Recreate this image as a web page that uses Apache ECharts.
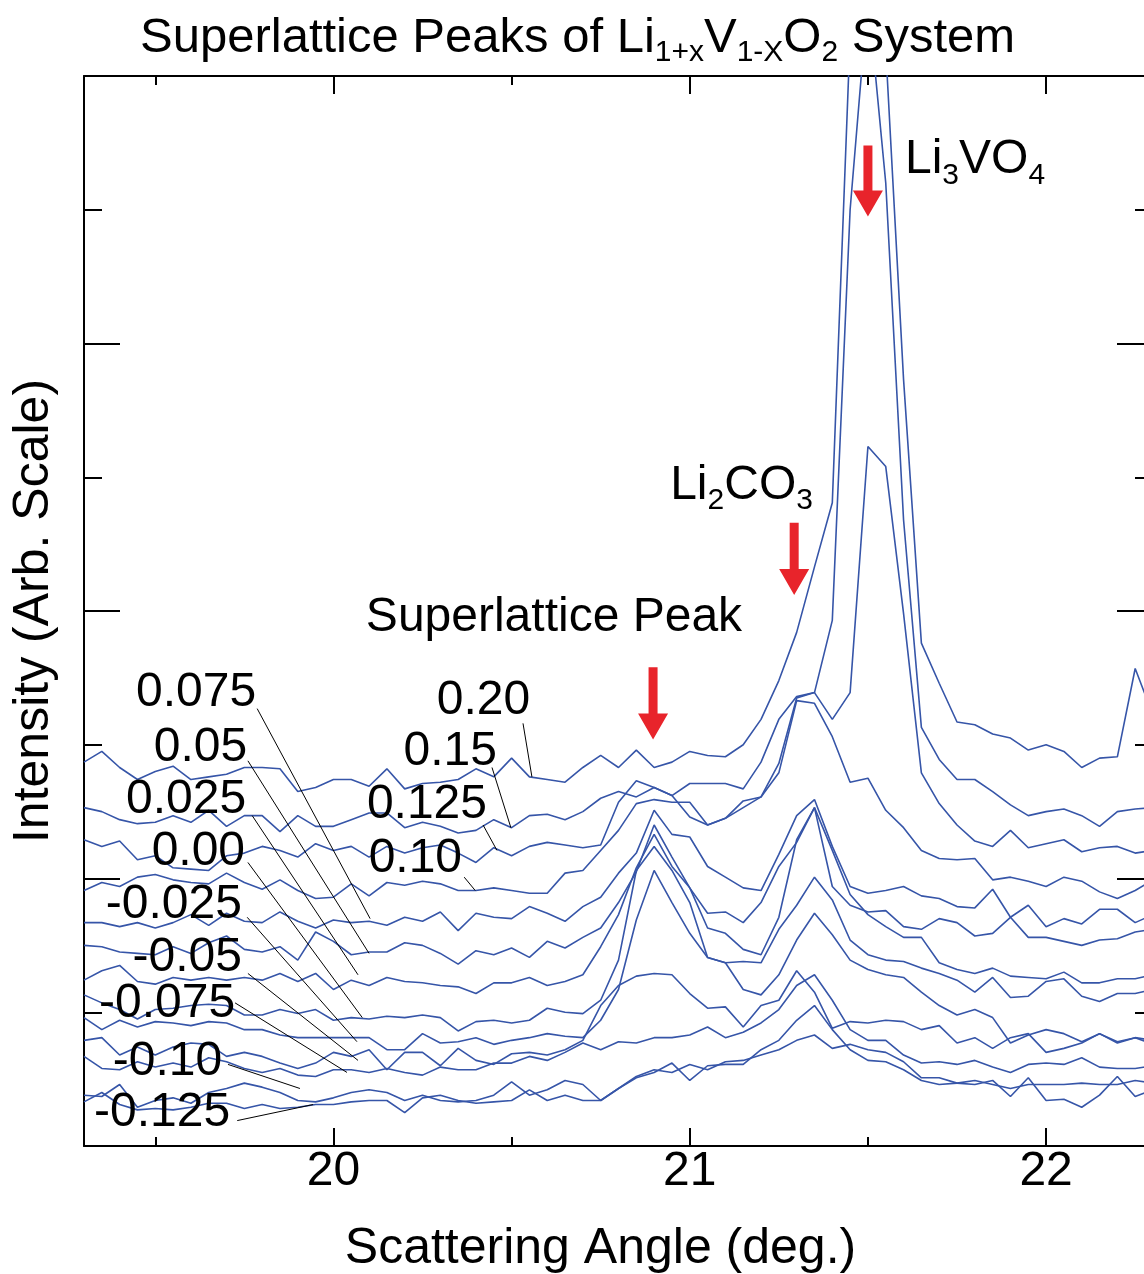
<!DOCTYPE html>
<html><head><meta charset="utf-8">
<script src="https://cdn.jsdelivr.net/npm/echarts@6/dist/echarts.min.js"></script>
<style>html,body{margin:0;padding:0;background:#fff;overflow:hidden;width:1144px;height:1274px}#c{width:1170px;height:1274px}</style>
</head><body><div id="c"></div>
<script>
// Scattering angles (deg.)
const angles = [19.30,19.35,19.40,19.45,19.50,19.55,19.60,19.65,19.70,19.75,
  19.80,19.85,19.90,19.95,20.00,20.05,20.10,20.15,20.20,20.25,
  20.30,20.35,20.40,20.45,20.50,20.55,20.60,20.65,20.70,20.75,
  20.80,20.85,20.90,20.95,21.00,21.05,21.10,21.15,21.20,21.25,
  21.30,21.35,21.40,21.45,21.50,21.55,21.60,21.65,21.70,21.75,
  21.80,21.85,21.90,21.95,22.00,22.05,22.10,22.15,22.20,22.25,
  22.30];
// Intensities (arb. scale, offset stacks)
const s020 = [2.87,2.95,2.83,2.74,2.80,2.84,2.74,2.76,2.78,2.83, 2.83,2.82,2.65,2.68,2.74,2.74,2.69,2.82,2.67,2.71, 2.72,2.74,2.82,2.76,2.90,2.76,2.74,2.72,2.83,2.92, 2.83,2.96,2.83,2.87,2.95,2.92,2.91,3.00,3.19,3.48, 3.84,4.33,4.81,8.30,10.50,8.20,5.73,3.76,3.46,3.17, 3.15,3.08,3.05,2.96,3.00,2.95,2.83,2.90,2.91,3.57, 3.22];
const s015 = [2.53,2.50,2.44,2.41,2.42,2.47,2.42,2.51,2.39,2.47, 2.47,2.35,2.47,2.39,2.39,2.44,2.49,2.49,2.38,2.42, 2.39,2.34,2.36,2.44,2.38,2.47,2.48,2.44,2.50,2.60, 2.65,2.61,2.68,2.62,2.71,2.71,2.71,2.67,2.87,3.19, 3.36,3.39,3.93,7.00,8.60,7.20,4.68,3.13,2.89,2.74, 2.74,2.65,2.55,2.47,2.50,2.52,2.47,2.39,2.50,2.52, 2.53];
const s0125 = [2.29,2.24,2.28,2.14,2.17,2.08,2.07,2.06,2.17,2.19, 2.24,2.21,2.16,2.26,2.21,2.24,2.16,2.24,2.19,2.23, 2.25,2.19,2.12,2.23,2.17,2.24,2.27,2.25,2.23,2.25, 2.57,2.73,2.68,2.62,2.46,2.40,2.45,2.53,2.61,2.86, 3.35,3.39,3.19,3.39,5.23,5.08,3.98,2.79,2.56,2.40, 2.28,2.24,2.36,2.23,2.26,2.29,2.20,2.23,2.24,2.19, 2.21];
const s010 = [1.91,1.97,1.94,2.01,2.03,1.99,1.97,1.96,2.04,1.97, 1.92,1.99,1.91,1.85,1.86,1.96,1.87,1.97,1.95,1.98, 1.96,1.91,1.91,1.93,1.91,1.89,1.89,2.04,2.06,2.21, 2.36,2.56,2.59,2.57,2.57,2.40,2.45,2.58,2.61,2.79, 3.33,3.31,3.06,2.72,2.75,2.51,2.38,2.21,2.15,2.14, 2.15,1.99,2.01,1.98,1.94,2.01,1.98,1.90,1.85,1.91, 1.99];
const s0075 = [1.67,1.67,1.64,1.67,1.63,1.67,1.73,1.65,1.74,1.68, 1.67,1.75,1.68,1.63,1.69,1.67,1.68,1.65,1.71,1.68, 1.75,1.61,1.74,1.71,1.70,1.79,1.74,1.68,1.79,1.86, 2.04,2.19,2.51,2.33,2.31,2.09,2.01,1.93,1.91,2.18, 2.47,2.59,2.24,1.94,1.89,1.91,1.94,1.87,1.85,1.79, 1.78,1.92,1.71,1.56,1.56,1.53,1.50,1.54,1.55,1.60, 1.62];
const s005 = [1.50,1.49,1.45,1.44,1.43,1.49,1.44,1.52,1.57,1.47, 1.45,1.49,1.39,1.60,1.53,1.43,1.45,1.45,1.52,1.50, 1.44,1.36,1.46,1.43,1.48,1.41,1.53,1.48,1.56,1.63, 1.82,2.05,2.40,2.16,1.93,1.74,1.75,1.67,1.82,2.09, 2.27,2.53,1.94,1.80,1.75,1.76,1.64,1.62,1.70,1.67, 1.57,1.59,1.71,1.80,1.64,1.70,1.66,1.77,1.77,1.67, 1.73];
const s0025 = [1.24,1.31,1.35,1.23,1.21,1.26,1.24,1.26,1.24,1.26, 1.24,1.29,1.23,1.29,1.17,1.24,1.20,1.26,1.23,1.22, 1.20,1.19,1.14,1.22,1.22,1.26,1.20,1.23,1.28,1.49, 1.73,2.08,2.33,2.09,1.93,1.63,1.59,1.47,1.43,1.71, 2.29,2.53,2.21,1.88,1.73,1.64,1.56,1.56,1.37,1.32, 1.29,1.33,1.27,1.26,1.25,1.30,1.22,1.22,1.25,1.25, 1.28];
const s000 = [1.13,1.07,1.02,0.95,1.02,1.03,1.05,1.06,1.05,0.98, 0.98,1.02,0.99,1.02,0.94,0.96,0.95,0.97,0.96,0.98, 0.96,0.86,0.93,0.94,0.92,0.94,1.03,1.00,0.99,1.09, 1.39,2.06,2.24,2.06,1.82,1.41,1.37,1.38,1.37,1.62, 1.80,2.01,1.84,1.54,1.43,1.39,1.38,1.33,1.29,1.24, 1.15,1.26,1.11,1.12,1.23,1.25,1.12,1.08,1.14,1.14, 1.17];
const sm0025 = [0.96,0.87,0.94,0.89,0.93,0.92,0.90,0.93,0.92,0.87, 0.87,0.83,0.81,0.81,0.81,0.81,0.81,0.72,0.72,0.84, 0.77,0.78,0.81,0.76,0.79,0.81,0.84,0.82,0.81,0.94, 1.17,1.69,2.06,1.82,1.59,1.41,1.37,1.17,1.13,1.28, 1.54,1.74,1.58,1.39,1.32,1.28,1.26,1.15,1.05,0.98, 1.02,0.96,0.77,0.83,0.87,0.84,0.78,0.84,0.78,0.81, 0.79];
const sm005 = [0.79,0.81,0.68,0.74,0.68,0.74,0.77,0.76,0.67,0.70, 0.67,0.62,0.58,0.62,0.70,0.67,0.72,0.57,0.70,0.70, 0.60,0.73,0.64,0.61,0.69,0.70,0.68,0.72,0.79,1.05, 1.20,1.27,1.29,1.28,1.14,1.03,1.04,0.89,1.05,1.09, 1.31,1.15,0.88,0.93,0.92,0.94,0.93,0.87,0.90,0.77, 0.81,0.73,0.81,0.84,0.70,0.73,0.77,0.84,0.77,0.81, 0.76];
const sm0075 = [0.67,0.58,0.57,0.63,0.59,0.62,0.59,0.66,0.63,0.58, 0.55,0.58,0.53,0.52,0.57,0.57,0.55,0.58,0.55,0.53, 0.59,0.57,0.57,0.62,0.62,0.67,0.64,0.70,0.77,0.72, 0.78,0.77,0.81,0.81,0.83,0.89,0.81,0.85,0.92,1.02, 1.20,1.28,1.09,0.87,0.79,0.79,0.68,0.62,0.63,0.61, 0.64,0.59,0.55,0.61,0.62,0.61,0.66,0.59,0.58,0.58, 0.60];
const sm010 = [0.38,0.37,0.46,0.29,0.34,0.36,0.32,0.40,0.43,0.47, 0.44,0.40,0.34,0.33,0.36,0.40,0.42,0.40,0.34,0.38, 0.34,0.33,0.34,0.38,0.48,0.38,0.42,0.49,0.46,0.34, 0.43,0.52,0.57,0.55,0.61,0.57,0.63,0.64,0.68,0.72, 0.79,0.83,0.73,0.76,0.72,0.70,0.63,0.51,0.51,0.47, 0.46,0.49,0.37,0.51,0.34,0.35,0.29,0.38,0.52,0.37, 0.42];
const sm0125 = [0.33,0.40,0.31,0.27,0.28,0.27,0.29,0.32,0.32,0.28, 0.31,0.28,0.29,0.31,0.31,0.33,0.34,0.34,0.25,0.36, 0.38,0.34,0.32,0.33,0.34,0.42,0.34,0.38,0.34,0.34, 0.43,0.51,0.55,0.62,0.49,0.60,0.61,0.61,0.72,0.79, 0.94,1.05,0.87,0.72,0.64,0.63,0.57,0.49,0.46,0.47, 0.49,0.46,0.43,0.46,0.46,0.46,0.47,0.46,0.46,0.49, 0.47];

const compositions = ['0.20','0.15','0.125','0.10','0.075','0.05','0.025','0.00','-0.025','-0.05','-0.075','-0.10','-0.125'];
const seriesValues = [s020,s015,s0125,s010,s0075,s005,s0025,s000,sm0025,sm005,sm0075,sm010,sm0125];
const xMajorTicks = [20,21,22];
const xMinorTicks = [19.5,20.5,21.5];

// annotation anchors in data coordinates
const labelAnchors = [[20.552,3.33],[20.459,2.95],[20.431,2.55],[20.361,2.15],[19.783,3.39],[19.758,2.98],[19.755,2.59],[19.752,2.20],[19.743,1.80],[19.743,1.41],[19.724,1.06],[19.688,0.63],[19.710,0.25]];
const leaderLines = [[20.532,3.16,20.557,2.76],[20.445,2.83,20.498,2.38],[20.420,2.40,20.459,2.21],[20.367,2.01,20.398,1.91],
  [19.786,3.27,20.103,1.70],[19.760,2.88,20.100,1.44],[19.772,2.47,20.069,1.28],[19.760,2.12,20.081,0.96],
  [19.758,1.71,20.066,0.78],[19.760,1.29,20.069,0.64],[19.724,1.07,20.038,0.55],[19.704,0.61,19.906,0.43],[19.730,0.19,19.943,0.31]];
const arrows = [[21.500,7.48,6.95],[21.293,4.66,4.12],[20.897,3.58,3.04]];
const phaseNotes = ['{m|Li}{s|3}{m|VO}{s|4}','{m|Li}{s|2}{m|CO}{s|3}','{m|Superlattice Peak}'];
const phaseAnchors = [[21.604,7.37],[20.945,4.94],[20.091,3.95]];

const FONT = '"Liberation Sans", Arial, Helvetica, sans-serif';
const BLUE = '#3655a8';
const RED = '#e8242b';
const richStyles = {
  m: {fontSize: 48, fontFamily: FONT, fill: '#000', color: '#000', lineHeight: 60},
  s: {fontSize: 30, fontFamily: FONT, fill: '#000', color: '#000', lineHeight: 26, verticalAlign: 'bottom'}
};

const chart = echarts.init(document.getElementById('c'), null, {renderer: 'canvas', width: 1170, height: 1274});

function xAxisDef(pos, ticks, len, showLine, showLabel) {
  return {
    type: 'value', position: pos, min: 19.3, max: 22.3,
    axisLine: {show: showLine, onZero: false, lineStyle: {color: '#000', width: 2}},
    axisTick: {show: true, inside: true, length: len, customValues: ticks, lineStyle: {color: '#000', width: 2}},
    axisLabel: {show: showLabel, customValues: ticks, fontSize: 48, fontFamily: FONT, color: '#000', margin: 2},
    splitLine: {show: false}
  };
}
function yAxisDef(pos, interval, len, showLine) {
  return {
    type: 'value', position: pos, min: 0, max: 8, interval: interval,
    axisLine: {show: showLine, onZero: false, lineStyle: {color: '#000', width: 2}},
    axisTick: {show: true, inside: true, length: len, lineStyle: {color: '#000', width: 2}},
    axisLabel: {show: false}, splitLine: {show: false}
  };
}

const xAxes = [xAxisDef('bottom', xMajorTicks, 18, true, true), xAxisDef('bottom', xMinorTicks, 9, false, false),
               xAxisDef('top', xMajorTicks, 18, true, false), xAxisDef('top', xMinorTicks, 9, false, false)];
Object.assign(xAxes[0], {name: 'Scattering Angle (deg.)', nameLocation: 'middle', nameGap: 78,
  nameTextStyle: {fontSize: 50, fontFamily: FONT, color: '#000', padding: [0, 36, 0, 0]}});
const yAxes = [yAxisDef('left', 2, 36, true), yAxisDef('left', 1, 18, false),
               yAxisDef('right', 2, 36, true), yAxisDef('right', 1, 18, false)];
Object.assign(yAxes[0], {name: 'Intensity (Arb. Scale)', nameLocation: 'middle', nameGap: 25, nameRotate: 90,
  nameTextStyle: {fontSize: 50, fontFamily: FONT, color: '#000'}});

const lineSeries = seriesValues.map((vals, i) => ({
  name: compositions[i], type: 'line', xAxisIndex: 0, yAxisIndex: 0,
  data: angles.map((a, k) => [a, vals[k]]), showSymbol: false, symbol: 'none', clip: true,
  lineStyle: {color: BLUE, width: 1.6}, silent: true, z: 3
}));

const annotationSeries = [
  {
    type: 'custom', coordinateSystem: 'cartesian2d', silent: true, z: 4,
    data: leaderLines,
    renderItem: (params, api) => {
      const a = api.coord([api.value(0), api.value(1)]);
      const b = api.coord([api.value(2), api.value(3)]);
      return {type: 'line', shape: {x1: a[0], y1: a[1], x2: b[0], y2: b[1]}, style: {stroke: '#000', lineWidth: 1}};
    }
  },
  {
    type: 'custom', coordinateSystem: 'cartesian2d', silent: true, z: 5,
    data: labelAnchors.map((p, i) => [p[0], p[1], i]),
    renderItem: (params, api) => {
      const p = api.coord([api.value(0), api.value(1)]);
      return {type: 'text', x: p[0], y: p[1], style: {text: compositions[api.value(2)], fontSize: 48, fontFamily: FONT,
        fill: '#000', align: 'right', verticalAlign: 'middle'}};
    }
  },
  {
    type: 'custom', coordinateSystem: 'cartesian2d', silent: true, z: 6,
    data: arrows,
    renderItem: (params, api) => {
      const top = api.coord([api.value(0), api.value(1)]);
      const tip = api.coord([api.value(0), api.value(2)]);
      const sw = 4.5, hw = 15, hh = 26, x = top[0];
      return {type: 'polygon', shape: {points: [[x - sw, top[1]], [x + sw, top[1]], [x + sw, tip[1] - hh], [x + hw, tip[1] - hh],
        [x, tip[1]], [x - hw, tip[1] - hh], [x - sw, tip[1] - hh]]}, style: {fill: RED}};
    }
  },
  {
    type: 'custom', coordinateSystem: 'cartesian2d', silent: true, z: 6,
    data: phaseAnchors.map((p, i) => [p[0], p[1], i]),
    renderItem: (params, api) => {
      const p = api.coord([api.value(0), api.value(1)]);
      return {type: 'text', x: p[0], y: p[1], style: {text: phaseNotes[api.value(2)], rich: richStyles,
        align: 'left', verticalAlign: 'middle'}};
    }
  }
];

chart.setOption({
  animation: false,
  backgroundColor: '#fff',
  title: {
    text: '{m|Superlattice Peaks of Li}{s|1+x}{m|V}{s|1-X}{m|O}{s|2}{m| System}',
    left: 135, top: 3,
    textStyle: {fontWeight: 'normal', rich: {
      m: {fontSize: 49, fontFamily: FONT, color: '#000', fontWeight: 'normal', lineHeight: 60},
      s: {fontSize: 30, fontFamily: FONT, color: '#000', fontWeight: 'normal', lineHeight: 24, verticalAlign: 'bottom'}
    }}
  },
  grid: {left: 84, top: 76, width: 1069, height: 1070, containLabel: false, outerBoundsMode: 'none'},
  xAxis: xAxes,
  yAxis: yAxes,
  series: lineSeries.concat(annotationSeries)
});
</script>
</body></html>
